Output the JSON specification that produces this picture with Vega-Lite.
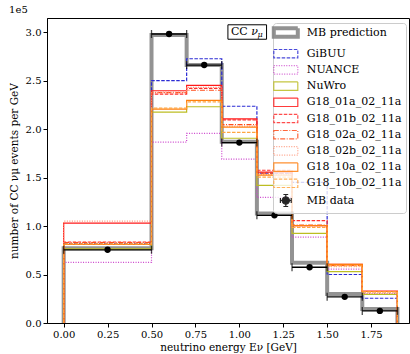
{
  "$schema": "https://vega.github.io/schema/vega-lite/v6.json",
  "width": 362,
  "height": 305,
  "autosize": "none",
  "padding": {"left": 47, "top": 18, "right": 1, "bottom": 31},
  "config": {
    "font": "DejaVu Serif",
    "view": {"stroke": "black", "strokeWidth": 1},
    "axis": {
      "domainColor": "black", "tickColor": "black", "labelColor": "black", "titleColor": "black",
      "labelFont": "DejaVu Serif", "titleFont": "DejaVu Serif", "labelFontSize": 10, "titleFontSize": 10.5,
      "titleFontWeight": "normal", "grid": false, "tickSize": 4, "labelPadding": 2
    }
  },
  "title": {"text": "1e5", "anchor": "start", "fontSize": 10, "fontWeight": "normal", "font": "DejaVu Serif", "offset": 3, "color": "black"},
  "datasets": {
    "hist": [
      {"s": "MB prediction", "x": 0, "y": 0}, {"s": "MB prediction", "x": 0, "y": 0.77}, {"s": "MB prediction", "x": 0.5, "y": 2.97}, {"s": "MB prediction", "x": 0.7, "y": 2.66}, {"s": "MB prediction", "x": 0.9, "y": 1.87}, {"s": "MB prediction", "x": 1.1, "y": 1.13}, {"s": "MB prediction", "x": 1.3, "y": 0.62}, {"s": "MB prediction", "x": 1.5, "y": 0.30}, {"s": "MB prediction", "x": 1.7, "y": 0.145}, {"s": "MB prediction", "x": 1.9, "y": 0.145}, {"s": "MB prediction", "x": 1.9, "y": 0},
      {"s": "GiBUU", "x": 0, "y": 0}, {"s": "GiBUU", "x": 0, "y": 0.82}, {"s": "GiBUU", "x": 0.5, "y": 2.50}, {"s": "GiBUU", "x": 0.7, "y": 2.725}, {"s": "GiBUU", "x": 0.9, "y": 2.235}, {"s": "GiBUU", "x": 1.1, "y": 1.545}, {"s": "GiBUU", "x": 1.3, "y": 1.45}, {"s": "GiBUU", "x": 1.5, "y": 0.50}, {"s": "GiBUU", "x": 1.7, "y": 0.255}, {"s": "GiBUU", "x": 1.9, "y": 0.255}, {"s": "GiBUU", "x": 1.9, "y": 0},
      {"s": "NUANCE", "x": 0, "y": 0}, {"s": "NUANCE", "x": 0, "y": 0.625}, {"s": "NUANCE", "x": 0.5, "y": 1.865}, {"s": "NUANCE", "x": 0.7, "y": 1.955}, {"s": "NUANCE", "x": 0.9, "y": 1.69}, {"s": "NUANCE", "x": 1.1, "y": 1.295}, {"s": "NUANCE", "x": 1.3, "y": 0.885}, {"s": "NUANCE", "x": 1.5, "y": 0.555}, {"s": "NUANCE", "x": 1.7, "y": 0.305}, {"s": "NUANCE", "x": 1.9, "y": 0.305}, {"s": "NUANCE", "x": 1.9, "y": 0},
      {"s": "NuWro", "x": 0, "y": 0}, {"s": "NuWro", "x": 0, "y": 0.765}, {"s": "NuWro", "x": 0.5, "y": 2.175}, {"s": "NuWro", "x": 0.7, "y": 2.23}, {"s": "NuWro", "x": 0.9, "y": 1.905}, {"s": "NuWro", "x": 1.1, "y": 1.42}, {"s": "NuWro", "x": 1.3, "y": 0.925}, {"s": "NuWro", "x": 1.5, "y": 0.53}, {"s": "NuWro", "x": 1.7, "y": 0.295}, {"s": "NuWro", "x": 1.9, "y": 0.295}, {"s": "NuWro", "x": 1.9, "y": 0},
      {"s": "G18_01a_02_11a", "x": 0, "y": 0}, {"s": "G18_01a_02_11a", "x": 0, "y": 1.03}, {"s": "G18_01a_02_11a", "x": 0.5, "y": 2.395}, {"s": "G18_01a_02_11a", "x": 0.7, "y": 2.45}, {"s": "G18_01a_02_11a", "x": 0.9, "y": 2.105}, {"s": "G18_01a_02_11a", "x": 1.1, "y": 1.555}, {"s": "G18_01a_02_11a", "x": 1.3, "y": 1.005}, {"s": "G18_01a_02_11a", "x": 1.5, "y": 0.605}, {"s": "G18_01a_02_11a", "x": 1.7, "y": 0.33}, {"s": "G18_01a_02_11a", "x": 1.9, "y": 0.33}, {"s": "G18_01a_02_11a", "x": 1.9, "y": 0},
      {"s": "G18_01b_02_11a", "x": 0, "y": 0}, {"s": "G18_01b_02_11a", "x": 0, "y": 0.835}, {"s": "G18_01b_02_11a", "x": 0.5, "y": 2.36}, {"s": "G18_01b_02_11a", "x": 0.7, "y": 2.42}, {"s": "G18_01b_02_11a", "x": 0.9, "y": 2.095}, {"s": "G18_01b_02_11a", "x": 1.1, "y": 1.575}, {"s": "G18_01b_02_11a", "x": 1.3, "y": 1.055}, {"s": "G18_01b_02_11a", "x": 1.5, "y": 0.60}, {"s": "G18_01b_02_11a", "x": 1.7, "y": 0.325}, {"s": "G18_01b_02_11a", "x": 1.9, "y": 0.325}, {"s": "G18_01b_02_11a", "x": 1.9, "y": 0},
      {"s": "G18_02a_02_11a", "x": 0, "y": 0}, {"s": "G18_02a_02_11a", "x": 0, "y": 0.83}, {"s": "G18_02a_02_11a", "x": 0.5, "y": 2.375}, {"s": "G18_02a_02_11a", "x": 0.7, "y": 2.40}, {"s": "G18_02a_02_11a", "x": 0.9, "y": 2.045}, {"s": "G18_02a_02_11a", "x": 1.1, "y": 1.545}, {"s": "G18_02a_02_11a", "x": 1.3, "y": 1.01}, {"s": "G18_02a_02_11a", "x": 1.5, "y": 0.595}, {"s": "G18_02a_02_11a", "x": 1.7, "y": 0.325}, {"s": "G18_02a_02_11a", "x": 1.9, "y": 0.325}, {"s": "G18_02a_02_11a", "x": 1.9, "y": 0},
      {"s": "G18_02b_02_11a", "x": 0, "y": 0}, {"s": "G18_02b_02_11a", "x": 0, "y": 1.05}, {"s": "G18_02b_02_11a", "x": 0.5, "y": 2.38}, {"s": "G18_02b_02_11a", "x": 0.7, "y": 2.43}, {"s": "G18_02b_02_11a", "x": 0.9, "y": 2.03}, {"s": "G18_02b_02_11a", "x": 1.1, "y": 1.53}, {"s": "G18_02b_02_11a", "x": 1.3, "y": 1.0}, {"s": "G18_02b_02_11a", "x": 1.5, "y": 0.58}, {"s": "G18_02b_02_11a", "x": 1.7, "y": 0.31}, {"s": "G18_02b_02_11a", "x": 1.9, "y": 0.31}, {"s": "G18_02b_02_11a", "x": 1.9, "y": 0},
      {"s": "G18_10a_02_11a", "x": 0, "y": 0}, {"s": "G18_10a_02_11a", "x": 0, "y": 0.81}, {"s": "G18_10a_02_11a", "x": 0.5, "y": 2.205}, {"s": "G18_10a_02_11a", "x": 0.7, "y": 2.295}, {"s": "G18_10a_02_11a", "x": 0.9, "y": 2.02}, {"s": "G18_10a_02_11a", "x": 1.1, "y": 1.525}, {"s": "G18_10a_02_11a", "x": 1.3, "y": 1.005}, {"s": "G18_10a_02_11a", "x": 1.5, "y": 0.605}, {"s": "G18_10a_02_11a", "x": 1.7, "y": 0.325}, {"s": "G18_10a_02_11a", "x": 1.9, "y": 0.325}, {"s": "G18_10a_02_11a", "x": 1.9, "y": 0},
      {"s": "G18_10b_02_11a", "x": 0, "y": 0}, {"s": "G18_10b_02_11a", "x": 0, "y": 0.815}, {"s": "G18_10b_02_11a", "x": 0.5, "y": 2.215}, {"s": "G18_10b_02_11a", "x": 0.7, "y": 2.28}, {"s": "G18_10b_02_11a", "x": 0.9, "y": 1.965}, {"s": "G18_10b_02_11a", "x": 1.1, "y": 1.505}, {"s": "G18_10b_02_11a", "x": 1.3, "y": 0.985}, {"s": "G18_10b_02_11a", "x": 1.5, "y": 0.59}, {"s": "G18_10b_02_11a", "x": 1.7, "y": 0.32}, {"s": "G18_10b_02_11a", "x": 1.9, "y": 0.32}, {"s": "G18_10b_02_11a", "x": 1.9, "y": 0}
    ],
    "mb": [
      {"x": 0.25, "lo": 0.0, "hi": 0.5, "y": 0.755},
      {"x": 0.6, "lo": 0.5, "hi": 0.7, "y": 2.98},
      {"x": 0.8, "lo": 0.7, "hi": 0.9, "y": 2.66},
      {"x": 1.0, "lo": 0.9, "hi": 1.1, "y": 1.86},
      {"x": 1.2, "lo": 1.1, "hi": 1.3, "y": 1.11},
      {"x": 1.4, "lo": 1.3, "hi": 1.5, "y": 0.575},
      {"x": 1.6, "lo": 1.5, "hi": 1.7, "y": 0.27},
      {"x": 1.8, "lo": 1.7, "hi": 1.9, "y": 0.125}
    ],
    "box": [{"x": 0.935, "x2": 1.155, "y": 2.926, "y2": 3.075}],
    "boxtext": [
      {"x": 0.952, "y": 3.0, "t": "CC", "k": "roman"},
      {"x": 1.068, "y": 3.0, "t": "ν", "k": "italic"},
      {"x": 1.103, "y": 2.965, "t": "μ", "k": "sub"}
    ]
  },
  "layer": [
    {
      "data": {"name": "hist"},
      "transform": [{"filter": "datum.s === 'MB prediction'"}],
      "mark": {"type": "line", "interpolate": "step-after", "strokeWidth": 4, "opacity": 0.85, "strokeJoin": "miter"},
      "encoding": {
        "x": {"field": "x", "type": "quantitative", "title": "neutrino energy Eν [GeV]",
              "scale": {"domain": [-0.095, 1.966], "nice": false, "zero": false},
              "axis": {"values": [0, 0.25, 0.5, 0.75, 1.0, 1.25, 1.5, 1.75], "format": ".2f", "titlePadding": 3}},
        "y": {"field": "y", "type": "quantitative", "title": "number of CC νμ events per GeV",
              "scale": {"domain": [0, 3.145], "nice": false},
              "axis": {"values": [0, 0.5, 1.0, 1.5, 2.0, 2.5, 3.0], "format": ".1f", "titlePadding": 6}},
        "color": {"field": "s", "type": "nominal",
          "scale": {"domain": ["MB prediction", "GiBUU", "NUANCE", "NuWro", "G18_01a_02_11a", "G18_01b_02_11a", "G18_02a_02_11a", "G18_02b_02_11a", "G18_10a_02_11a", "G18_10b_02_11a", "MB data"],
                    "range": ["#808080", "#2b2bd4", "#cc44cc", "#bcbd22", "#ff1a1a", "#ff2e2e", "#ff4d1a", "#ff9070", "#ff7f0e", "#ffa640", "#000000"]},
          "legend": {"title": null, "orient": "none", "legendX": 226, "legendY": 5,
            "symbolType": "M-2,-0.7H2V0.7H-2Z", "symbolSize": 144, "symbolStrokeWidth": 1.2, "symbolFillColor": "transparent",
            "labelFont": "DejaVu Serif", "labelFontSize": 11, "labelColor": "black", "labelOffset": 15.5, "symbolOffset": 3.3,
            "rowPadding": 1.2, "padding": 4, "fillColor": "rgba(255,255,255,0.8)", "strokeColor": "#cccccc", "cornerRadius": 3,
            "encoding": {"symbols": {
              "shape": {"value": {"expr": "datum.value === 'MB data' ? 'M-0.9,0H0.9M-0.9,-0.4V0.4M0.9,-0.4V0.4M0,-1V1M-0.4,-1H0.4M-0.4,1H0.4M0.6,0A0.6,0.6,0,1,1,-0.6,0A0.6,0.6,0,1,1,0.6,0Z' : 'M-2,-0.7H2V0.7H-2Z'"}},
              "fill": {"value": {"expr": "datum.value === 'MB data' ? 'black' : 'transparent'"}},
              "strokeWidth": {"value": {"expr": "datum.value === 'MB prediction' ? 4 : 1.2"}}
            }}}},
        "strokeDash": {"field": "s", "type": "nominal",
          "scale": {"domain": ["MB prediction", "GiBUU", "NUANCE", "NuWro", "G18_01a_02_11a", "G18_01b_02_11a", "G18_02a_02_11a", "G18_02b_02_11a", "G18_10a_02_11a", "G18_10b_02_11a", "MB data"],
                    "range": [[1, 0], [3.5, 1.5], [1, 1.5], [1, 0], [1, 0], [3.5, 1.5], [5, 1.5, 1, 1.5], [1, 1.5], [1, 0], [3.5, 1.5], [1, 0]]}},
        "order": {"value": null}
      }
    },
    {
      "data": {"name": "hist"},
      "transform": [{"filter": "datum.s !== 'MB prediction'"}],
      "mark": {"type": "line", "interpolate": "step-after", "strokeWidth": 1.2},
      "encoding": {
        "x": {"field": "x", "type": "quantitative", "title": "neutrino energy Eν [GeV]"},
        "y": {"field": "y", "type": "quantitative", "title": "number of CC νμ events per GeV"},
        "color": {"field": "s", "type": "nominal"},
        "strokeDash": {"field": "s", "type": "nominal"},
        "order": {"value": null}
      }
    },
    {
      "data": {"name": "mb"},
      "mark": {"type": "rule", "color": "black", "strokeWidth": 1.3},
      "encoding": {
        "x": {"field": "lo", "type": "quantitative", "title": "neutrino energy Eν [GeV]"},
        "x2": {"field": "hi"},
        "y": {"field": "y", "type": "quantitative", "title": "number of CC νμ events per GeV"}
      }
    },
    {
      "data": {"name": "mb"},
      "mark": {"type": "tick", "orient": "vertical", "color": "black", "thickness": 1.3, "size": 8},
      "encoding": {
        "x": {"field": "lo", "type": "quantitative", "title": "neutrino energy Eν [GeV]"},
        "y": {"field": "y", "type": "quantitative", "title": "number of CC νμ events per GeV"}
      }
    },
    {
      "data": {"name": "mb"},
      "mark": {"type": "tick", "orient": "vertical", "color": "black", "thickness": 1.3, "size": 8},
      "encoding": {
        "x": {"field": "hi", "type": "quantitative", "title": "neutrino energy Eν [GeV]"},
        "y": {"field": "y", "type": "quantitative", "title": "number of CC νμ events per GeV"}
      }
    },
    {
      "data": {"name": "mb"},
      "mark": {"type": "point", "filled": true, "color": "black", "size": 40, "opacity": 1},
      "encoding": {
        "x": {"field": "x", "type": "quantitative", "title": "neutrino energy Eν [GeV]"},
        "y": {"field": "y", "type": "quantitative", "title": "number of CC νμ events per GeV"}
      }
    },
    {
      "data": {"name": "box"},
      "mark": {"type": "rect", "fill": "white", "stroke": "black", "strokeWidth": 1},
      "encoding": {
        "x": {"field": "x", "type": "quantitative", "title": "neutrino energy Eν [GeV]"},
        "x2": {"field": "x2"},
        "y": {"field": "y", "type": "quantitative", "title": "number of CC νμ events per GeV"},
        "y2": {"field": "y2"}
      }
    },
    {
      "data": {"name": "boxtext"},
      "transform": [{"filter": "datum.k === 'roman'"}],
      "mark": {"type": "text", "align": "left", "baseline": "middle", "fontSize": 11, "font": "DejaVu Serif", "color": "black"},
      "encoding": {
        "x": {"field": "x", "type": "quantitative", "title": "neutrino energy Eν [GeV]"},
        "y": {"field": "y", "type": "quantitative", "title": "number of CC νμ events per GeV"},
        "text": {"field": "t"}
      }
    },
    {
      "data": {"name": "boxtext"},
      "transform": [{"filter": "datum.k === 'italic'"}],
      "mark": {"type": "text", "align": "left", "baseline": "middle", "fontSize": 11, "font": "DejaVu Serif", "fontStyle": "italic", "color": "black"},
      "encoding": {
        "x": {"field": "x", "type": "quantitative", "title": "neutrino energy Eν [GeV]"},
        "y": {"field": "y", "type": "quantitative", "title": "number of CC νμ events per GeV"},
        "text": {"field": "t"}
      }
    },
    {
      "data": {"name": "boxtext"},
      "transform": [{"filter": "datum.k === 'sub'"}],
      "mark": {"type": "text", "align": "left", "baseline": "middle", "fontSize": 8, "font": "DejaVu Serif", "fontStyle": "italic", "color": "black"},
      "encoding": {
        "x": {"field": "x", "type": "quantitative", "title": "neutrino energy Eν [GeV]"},
        "y": {"field": "y", "type": "quantitative", "title": "number of CC νμ events per GeV"},
        "text": {"field": "t"}
      }
    }
  ]
}
